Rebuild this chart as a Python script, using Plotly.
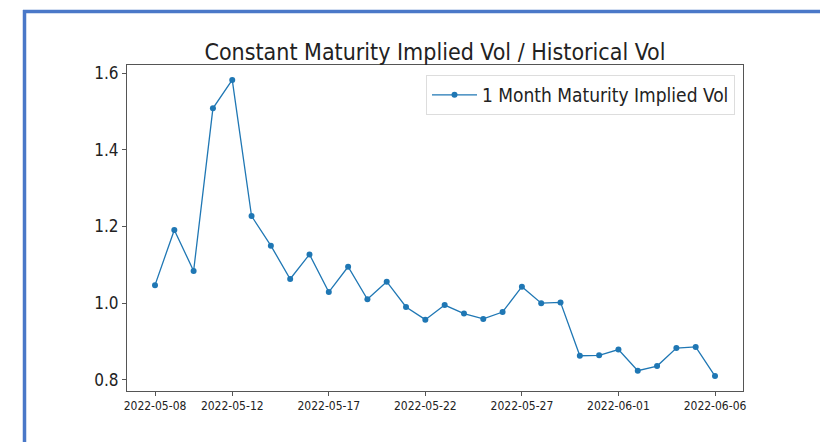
import plotly.graph_objects as go
import pandas as pd

dates = pd.date_range("2022-05-08", "2022-06-06", freq="D").strftime("%Y-%m-%d").tolist()
implied_vol_ratio = [1.047, 1.191, 1.084, 1.508, 1.582, 1.227, 1.150, 1.063, 1.127, 1.029,
                     1.095, 1.010, 1.056, 0.990, 0.957, 0.995, 0.973, 0.959, 0.977, 1.043,
                     1.000, 1.002, 0.863, 0.864, 0.879, 0.824, 0.836, 0.883, 0.886, 0.810]
x_tick_vals = ["2022-05-08", "2022-05-12", "2022-05-17", "2022-05-22", "2022-05-27", "2022-06-01", "2022-06-06"]
y_tick_vals = [0.8, 1.0, 1.2, 1.4, 1.6]
series_name = "1 Month Maturity Implied Vol"
title = "Constant Maturity Implied Vol / Historical Vol"

W, H = 820, 442
L, R, T, B = 127, 77, 65, 51
pw, ph = W - L - R, H - T - B

def px_x(p):
    return (p - L) / pw

def px_y(p):
    return (H - B - p) / ph

fig = go.Figure()
fig.add_trace(go.Scatter(
    x=dates, y=implied_vol_ratio, mode="lines+markers", name=series_name,
    line=dict(color="#1f77b4", width=1.3),
    marker=dict(color="#1f77b4", size=6),
))

font = "DejaVu Sans Condensed, DejaVu Sans"
fig.update_layout(
    width=W, height=H,
    margin=dict(l=L, r=R, t=T, b=B),
    paper_bgcolor="white", plot_bgcolor="white",
    font=dict(family=font, color="#222"),
    title=dict(text=title, x=0.5, xref="paper", xanchor="center",
               y=1 - 52 / H, yanchor="middle", font=dict(size=23, family=font, color="#222")),
    showlegend=True,
    legend=dict(x=px_x(735), y=px_y(75), xanchor="right", yanchor="top",
                itemwidth=45,
                bgcolor="rgba(255,255,255,0.8)", bordercolor="#dddddd", borderwidth=1,
                font=dict(size=19, family=font, color="#222")),
    xaxis=dict(type="date", range=["2022-05-06 13:12", "2022-06-07 10:48"],
               tickvals=x_tick_vals, tickformat="%Y-%m-%d",
               tickfont=dict(size=12, family=font, color="#222"),
               showgrid=False, zeroline=False, showline=True, linecolor="#555", linewidth=1,
               mirror=True, ticks="outside", ticklen=4, tickcolor="#555"),
    yaxis=dict(range=[0.771, 1.621], tickvals=y_tick_vals, tickformat=".1f",
               tickfont=dict(size=17, family=font, color="#222"),
               showgrid=False, zeroline=False, showline=True, linecolor="#555", linewidth=1,
               mirror=True, ticks="outside", ticklen=4, tickcolor="#555"),
    shapes=[
        dict(type="line", xref="paper", yref="paper", x0=px_x(23), x1=px_x(W + 5),
             y0=px_y(11.5), y1=px_y(11.5), line=dict(color="#4a78c8", width=3.5)),
        dict(type="line", xref="paper", yref="paper", x0=px_x(24.5), x1=px_x(24.5),
             y0=px_y(10), y1=px_y(H + 5), line=dict(color="#4a78c8", width=3.5)),
    ],
)

fig.write_html("out.html", config={"displayModeBar": False},
               post_script="document.body.style.margin='0px';")
